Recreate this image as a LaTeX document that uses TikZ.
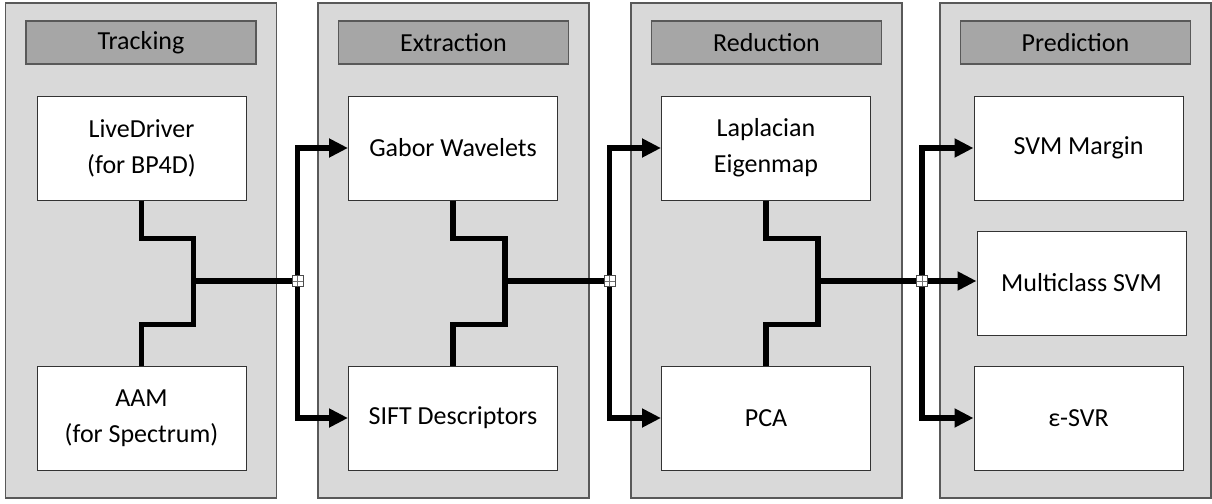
\documentclass[tikz,border=0pt]{standalone}
\usepackage{fontspec}
\setmainfont{Carlito}
\usetikzlibrary{arrows.meta}

\definecolor{panelgray}{HTML}{D9D9D9}
\definecolor{headgray}{HTML}{A6A6A6}
\definecolor{edgegray}{HTML}{595959}

\begin{document}
\begin{tikzpicture}[x=1pt,y=-1pt]
		\newcommand{\boxw}{209pt}
		\newcommand{\boxh}{104pt}
		\newcommand{\rowa}{148}   % upper row of boxes
		\newcommand{\rowb}{283}   % middle row
		\newcommand{\rowc}{418}   % lower row

		% set the styles of the stages
		\tikzset{
			panel/.style={
				draw=edgegray, line width=1.5pt, fill=panelgray,
				minimum width=271pt, minimum height=495pt, inner sep=0pt
				},
			header/.style={
				draw=edgegray, line width=1.2pt, fill=headgray,
				minimum width=230pt, minimum height=43pt, inner sep=0pt,
				font=\fontsize{26}{30}\selectfont
				},
			stage/.style={
				draw=black!80, line width=1pt, fill=white,
				minimum width=\boxw, minimum height=\boxh, inner sep=0pt,
				align=center, font=\fontsize{26}{36}\selectfont
				},
			wire/.style={line width=5.5pt},
			feed/.style={wire, -{Triangle[length=19pt,width=18pt]}},
			hop/.style={
				draw=black!70, line width=0.8pt, fill=white,
				minimum size=11pt, inner sep=0pt,
				path picture={\draw[black!55, line width=0.7pt]
					(path picture bounding box.north) -- (path picture bounding box.south)
					(path picture bounding box.west) -- (path picture bounding box.east);}
				}
		}

		\fill[white] (0,0) rectangle (1212,503);
		\useasboundingbox (0,0) rectangle (1212,503);

		% panels and their titles
		\foreach \name/\x/\lab in {trk/141/Tracking, ext/453.5/Extraction, red/766.5/Reduction, pre/1075.5/Prediction}{
			\node[panel] (\name) at (\x,250.5) {};
			\node[header] (\name head) at (\x,42.5) {\lab};
		}

		% stages
		\node[stage] (live) at (141.5,\rowa) {LiveDriver\\(for BP4D)};
		\node[stage] (aam) at (141.5,\rowc) {AAM\\(for Spectrum)};
		\node[stage] (gabor) at (453,\rowa) {Gabor Wavelets};
		\node[stage] (sift) at (453,\rowc) {SIFT Descriptors};
		\node[stage] (lap) at (766,\rowa) {Laplacian\\Eigenmap};
		\node[stage] (pca) at (766,\rowc) {PCA};
		\node[stage] (svm) at (1078.5,\rowa) {SVM Margin};
		\node[stage] (multi) at (1081.5,\rowb) {Multiclass SVM};
		\node[stage] (esvr) at (1078.5,\rowc) {ε-SVR};

		% merging points and buses
		\coordinate (trkj) at (193.5,281);
		\coordinate (extj) at (505,281);
		\coordinate (redj) at (818,281);
		\coordinate (trkbus) at (297.5,281);
		\coordinate (extbus) at (609.5,281);
		\coordinate (redbus) at (922,281);

		% elbows inside the panels
		\foreach \a/\b/\j/\bus in {live/aam/trkj/trkbus, gabor/sift/extj/extbus, lap/pca/redj/redbus}{
			\draw[wire] (\a.south) -- ++(0,38) -| (\j);
			\draw[wire] (\b.north) -- ++(0,-41) -| (\j);
			\draw[wire] (\j) -- (\bus);
		}

		% arrows to the next stage
		\draw[feed] (trkbus) |- (gabor.west);
		\draw[feed] (trkbus) |- (sift.west);
		\draw[feed] (extbus) |- (lap.west);
		\draw[feed] (extbus) |- (pca.west);
		\draw[feed] (redbus) |- (svm.west);
		\draw[feed] (redbus) -- (redbus -| multi.west);
		\draw[feed] (redbus) |- (esvr.west);

		% junction marks
		\foreach \bus in {trkbus, extbus, redbus}
			\node[hop] (\bus mark) at (\bus) {};
\end{tikzpicture}
\end{document}
